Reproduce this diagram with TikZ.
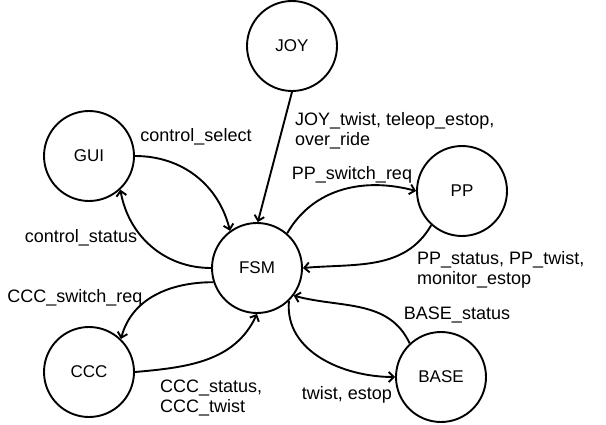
\documentclass[tikz,border=0pt]{standalone}
\usepackage{fontspec}
\setmainfont{Liberation Sans}
\usetikzlibrary{arrows.meta}
\begin{document}
\begin{tikzpicture}[x=1pt,y=1pt,
  state/.style={circle,draw,line width=1.9pt,minimum size=90pt,inner sep=0pt,font=\fontsize{17}{20}\selectfont},
  lbl/.style={inner sep=0pt,font=\fontsize{18}{20}\selectfont,align=left},
  conn/.style={line width=1.9pt,-{Straight Barb[length=5pt,width=10pt]}}]
\useasboundingbox (0,0) rectangle (606,424);
\node[state] (JOY)  at (292,378) {JOY};
\node[state] (GUI)  at (89,268)  {GUI};
\node[state] (FSM)  at (257,156) {FSM};
\node[state] (PP)   at (462,233) {PP};
\node[state] (CCC)  at (89,52)   {CCC};
\node[state] (BASE) at (441,47)  {BASE};

\draw[conn] (JOY.270) -- (FSM.89);
\draw[conn] (GUI.0) to[out=0,in=104] (FSM.126);
\draw[conn] (FSM.180) to[out=180,in=-80] (GUI.-47);
\draw[conn] (FSM.49) to[out=60,in=165] (PP.180);
\draw[conn] (PP.228) to[out=240,in=5] (FSM.0);
\draw[conn] (FSM.198) to[out=180,in=75] (CCC.46);
\draw[conn] (CCC.0) to[out=5,in=-115] (FSM.270);
\draw[conn] (BASE.133) to[out=115,in=-15] (FSM.-37);
\draw[conn] (FSM.-46) to[out=-95,in=180] (BASE.180);

\node[lbl] (lcs) at (196,287) {control\_select};
\node[lbl] (lct) at (81,186) {control\_status};
\node[lbl,anchor=west] (ljoy) at (295,293) {JOY\_twist, teleop\_estop,\\over\_ride};
\node[lbl] (lpps) at (352,249) {PP\_switch\_req};
\node[lbl,anchor=west] (lppt) at (417,154) {PP\_status, PP\_twist,\\monitor\_estop};
\node[lbl] (lccs) at (75,126) {CCC\_switch\_req};
\node[lbl,anchor=west] (lcct) at (160,26) {CCC\_status,\\CCC\_twist};
\node[lbl] (lbs) at (457,109) {BASE\_status};
\node[lbl] (lte) at (347,29) {twist, estop};
\end{tikzpicture}
\end{document}
